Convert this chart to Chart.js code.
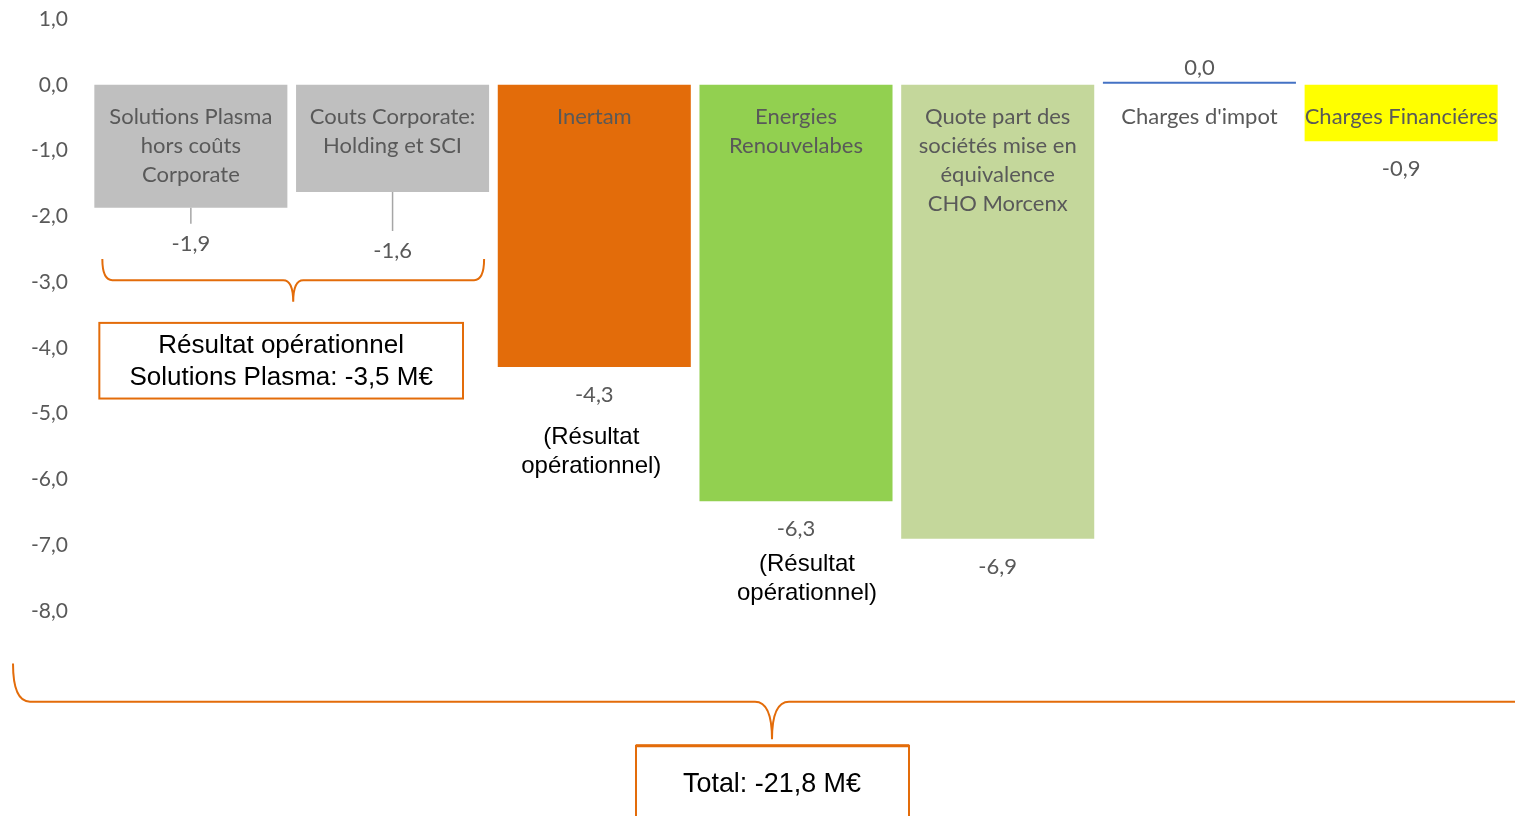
<!DOCTYPE html>
<html>
<head>
<meta charset="utf-8">
<script src="https://cdn.jsdelivr.net/npm/chart.js@4"></script>
<style>
  body { margin: 0; background: #fff; }
  #wrap { width: 1515px; height: 816px; }
</style>
</head>
<body>
<div id="wrap"><canvas id="myChart" width="1515" height="816"></canvas></div>
<script>
// data of the chart
const categories = [
  ["Solutions Plasma", "hors coûts", "Corporate"],
  ["Couts Corporate:", "Holding et SCI"],
  ["Inertam"],
  ["Energies", "Renouvelabes"],
  ["Quote part des", "sociétés mise en", "équivalence", "CHO Morcenx"],
  ["Charges d'impot"],
  ["Charges Financiéres"]
];
const values = [-1.87, -1.63, -4.29, -6.33, -6.9, 0.0, -0.86];
const barColors = ["#BFBFBF", "#BFBFBF", "#E36C0A", "#92D050", "#C4D79B", "#4472C4", "#FFFF00"];
const yMin = -8;
const yMax = 1;
const yStep = 1;
const notes = ["Résultat opérationnel", "Solutions Plasma: -3,5 M€"];
const totalNote = "Total: -21,8 M€";
const subNote = ["(Résultat", "opérationnel)"];

const orange = "#E36C0A";
const greyText = "#595959";
const labelFont = "22px Lato, Calibri, sans-serif";
const subFont = "24px 'Liberation Sans', Arial, sans-serif";
const boxFont = "26px 'Liberation Sans', Arial, sans-serif";
const totalFont = "28px 'Liberation Sans', Arial, sans-serif";

function fmt(v) {
  return v.toFixed(1).replace(".", ",");
}

// brace opening upward, tip pointing down
function drawBrace(ctx, x1, x2, xm, yTop, yMid, yTip, r) {
  ctx.beginPath();
  ctx.moveTo(x1, yTop);
  ctx.quadraticCurveTo(x1, yMid, x1 + r, yMid);
  ctx.lineTo(xm - r, yMid);
  ctx.quadraticCurveTo(xm, yMid, xm, yTip);
  ctx.quadraticCurveTo(xm, yMid, xm + r, yMid);
  ctx.lineTo(x2 - r, yMid);
  ctx.quadraticCurveTo(x2, yMid, x2, yTop);
  ctx.stroke();
}

// labels inside and below bars, plus braces and boxes
const annotations = {
  id: "annotations",
  afterDatasetsDraw(chart) {
    const ctx = chart.ctx;
    const y = chart.scales.y;
    const bars = chart.getDatasetMeta(0).data;
    const zero = y.getPixelForValue(0);
    ctx.save();

    // zero bar drawn as a thin line
    bars.forEach((b, i) => {
      if (values[i] === 0) {
        ctx.strokeStyle = barColors[i];
        ctx.lineWidth = 2;
        ctx.beginPath();
        ctx.moveTo(b.x - b.width / 2, zero - 2);
        ctx.lineTo(b.x + b.width / 2, zero - 2);
        ctx.stroke();
      }
    });

    // category names inside bars
    ctx.font = labelFont;
    ctx.fillStyle = greyText;
    ctx.textAlign = "center";
    ctx.textBaseline = "middle";
    bars.forEach((b, i) => {
      categories[i].forEach((line, k) => {
        ctx.fillText(line, b.x, zero + 32 + k * 29);
      });
    });

    // value labels
    const offsets = [36, 59, 28, 28, 28, -15, 28];
    bars.forEach((b, i) => {
      const bottom = y.getPixelForValue(values[i]);
      if (i < 2) {
        ctx.strokeStyle = "#A6A6A6";
        ctx.lineWidth = 1.5;
        ctx.beginPath();
        ctx.moveTo(b.x, bottom);
        ctx.lineTo(b.x, bottom + offsets[i] - 20);
        ctx.stroke();
      }
      ctx.fillStyle = greyText;
      ctx.fillText(fmt(values[i]), b.x, (values[i] === 0 ? zero - 2 : bottom) + offsets[i]);
    });

    // "(Résultat opérationnel)" under Inertam and Energies
    ctx.font = subFont;
    ctx.fillStyle = "#000";
    [[2, -3, 70], [3, 11, 63]].forEach(([i, dx, dy]) => {
      const b = bars[i];
      const bottom = y.getPixelForValue(values[i]);
      subNote.forEach((line, k) => {
        ctx.fillText(line, b.x + dx, bottom + dy + k * 29);
      });
    });

    // brace over the two first bars
    ctx.strokeStyle = orange;
    ctx.lineWidth = 2;
    const x1 = bars[0].x - bars[0].width / 2 + 8;
    const x2 = bars[1].x + bars[1].width / 2 - 5;
    drawBrace(ctx, x1, x2, (x1 + x2) / 2,
      y.getPixelForValue(-2.65), y.getPixelForValue(-2.97), y.getPixelForValue(-3.3), 10);

    // box Solutions Plasma
    const bt = y.getPixelForValue(-3.62);
    const bb = y.getPixelForValue(-4.77);
    const bl = bars[0].x - bars[0].width / 2 + 5;
    const br = 463;
    ctx.fillStyle = "#fff";
    ctx.fillRect(bl, bt, br - bl, bb - bt);
    ctx.strokeRect(bl, bt, br - bl, bb - bt);
    ctx.fillStyle = "#000";
    ctx.font = boxFont;
    ctx.fillText(notes[0], (bl + br) / 2, bt + 23, 252);
    ctx.fillText(notes[1], (bl + br) / 2, bt + 55, 310);

    // big brace over everything
    const tip = 772;
    drawBrace(ctx, 13, 1535, tip,
      y.getPixelForValue(-8.8), y.getPixelForValue(-9.38), y.getPixelForValue(-9.95), 17);

    // total box
    const tt = y.getPixelForValue(-10.05);
    ctx.lineWidth = 2;
    ctx.beginPath();
    ctx.moveTo(636, chart.height + 2);
    ctx.lineTo(636, tt);
    ctx.lineTo(909, tt);
    ctx.lineTo(909, chart.height + 2);
    ctx.stroke();
    ctx.lineWidth = 3;
    ctx.beginPath();
    ctx.moveTo(636, tt);
    ctx.lineTo(909, tt);
    ctx.stroke();
    ctx.fillStyle = "#000";
    ctx.font = totalFont;
    ctx.fillText(totalNote, tip, tt + 38, 178);

    ctx.restore();
  }
};

const ctx = document.getElementById("myChart").getContext("2d");
const myChart = new Chart(ctx, {
  type: "bar",
  data: {
    labels: categories,
    datasets: [{
      data: values,
      backgroundColor: barColors.map((c, i) => values[i] === 0 ? "rgba(0,0,0,0)" : c),
      borderWidth: 0,
      categoryPercentage: 1,
      barPercentage: 0.957
    }]
  },
  options: {
    responsive: false,
    animation: false,
    layout: { padding: { top: 19, bottom: 205, left: 0, right: 13 } },
    plugins: {
      legend: { display: false },
      tooltip: { enabled: false }
    },
    scales: {
      x: { display: false },
      y: {
        min: yMin,
        max: yMax,
        afterFit(scale) {
          scale.width = 90;
          scale.paddingTop = 0;
          scale.paddingBottom = 0;
        },
        grid: { display: false, drawTicks: false },
        border: { display: false },
        ticks: {
          stepSize: yStep,
          padding: 22,
          color: greyText,
          font: { family: "Lato, Calibri, sans-serif", size: 21 },
          callback: (v) => fmt(v)
        }
      }
    }
  },
  plugins: [annotations]
});
</script>
</body>
</html>
